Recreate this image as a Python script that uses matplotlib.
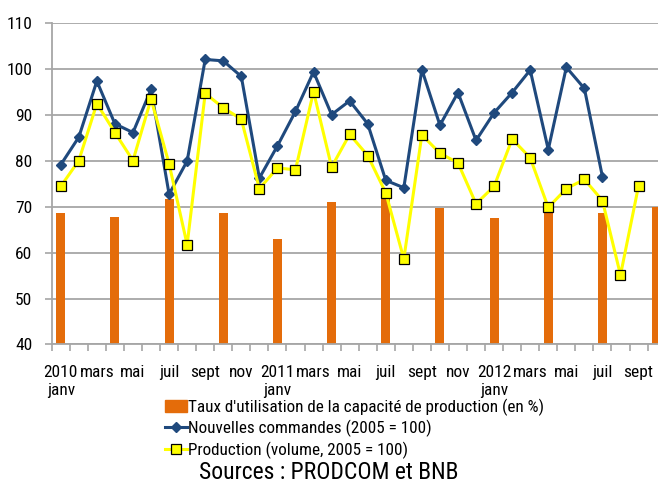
import numpy as np
import matplotlib
matplotlib.use("Agg")
import matplotlib.pyplot as plt
from matplotlib.patches import Patch
from matplotlib.lines import Line2D

plt.rcParams['font.family'] = ['Roboto Condensed', 'DejaVu Sans']

# months Jan 2010 .. Oct 2012
mois = ["janv", "févr", "mars", "avr", "mai", "juin", "juil", "août", "sept", "oct", "nov", "déc"]
annees = [2010, 2011, 2012]
n_mois = 34

# capacity utilisation, quarterly (Jan, Apr, Jul, Oct)
taux_idx = [0, 3, 6, 9, 12, 15, 18, 21, 24, 27, 30, 33]
taux = [68.7, 67.8, 71.7, 68.7, 63.0, 70.9, 71.6, 69.6, 67.6, 69.7, 68.5, 70.0]

commandes = [79.1, 85.1, 97.3, 88.0, 86.1, 95.5, 72.7, 79.9, 102.0, 101.7, 98.3, 76.2,
             83.2, 90.7, 99.3, 90.0, 93.0, 88.0, 75.7, 74.1, 99.8, 87.7, 94.8, 84.4,
             90.4, 94.8, 99.7, 82.4, 100.3, 95.7, 76.5]

production = [74.4, 80.0, 92.4, 86.1, 80.0, 93.4, 79.3, 61.7, 94.6, 91.5, 89.0, 73.9,
              78.4, 78.0, 95.0, 78.6, 85.7, 81.1, 73.0, 58.6, 85.6, 81.6, 79.5, 70.6,
              74.4, 84.7, 80.6, 69.8, 73.9, 75.9, 71.3, 55.1, 74.5]

orange = "#E46C0A"
bleu = "#1F497D"
jaune = "#FFFF00"
gris = "#A6A6A6"

fig = plt.figure(figsize=(6.58, 4.86), dpi=100)
ax = fig.add_axes([0.0786, 0.2912, 0.933, 0.6621])

ax.bar(taux_idx, taux, width=0.5, color=orange, zorder=2)
ax.plot(np.arange(len(commandes)), commandes, color=bleu, lw=2.2, marker="D", ms=5.5, zorder=3)
ax.plot(np.arange(len(production)), production, color=jaune, lw=2.2, marker="s", ms=7.5,
        mfc=jaune, mec="black", mew=0.9, zorder=4)

ax.set_ylim(40, 110)
ax.set_xlim(-0.5, n_mois - 0.5)
ax.set_yticks(np.arange(40, 111, 10))
ax.grid(axis="y", color=gris, lw=1.3, zorder=0)
ax.set_axisbelow(True)

# x labels every two months, year under janv
pos = np.arange(0, 33, 2)
labels = []
for p in pos:
    m = mois[p % 12]
    if p % 12 == 0:
        labels.append(f"{annees[p // 12]}\n{m}")
    else:
        labels.append(m)
ax.set_xticks(pos)
ax.set_xticklabels(labels, fontsize=12.5, linespacing=1.2)
ax.set_xticks(np.arange(-0.5, n_mois, 1), minor=True)
ax.tick_params(axis="x", which="major", length=0, pad=15)
ax.tick_params(axis="x", which="minor", length=5, color=gris, width=1.2)
ax.tick_params(axis="y", length=5, color=gris, width=1.2, labelsize=12.5, pad=9)

for s in ["top", "right"]:
    ax.spines[s].set_visible(False)
for s in ["left", "bottom"]:
    ax.spines[s].set_color(gris)
    ax.spines[s].set_linewidth(1.3)

handles = [
    Patch(color=orange),
    Line2D([], [], color=bleu, lw=2.2, marker="D", ms=5),
    Line2D([], [], color=jaune, lw=2.2, marker="s", ms=7, mfc=jaune, mec="black", mew=0.9),
]
noms = ["Taux d'utilisation de la capacité de production (en %)",
        "Nouvelles commandes (2005 = 100)",
        "Production (volume, 2005 = 100)"]
fig.legend(handles, noms, loc="upper left", bbox_to_anchor=(0.25, 0.18),
           frameon=False, fontsize=12.3, handlelength=1.3, handletextpad=0.1,
           labelspacing=0.25, borderaxespad=0, borderpad=0)

fig.text(0.5, 0.004, "Sources : PRODCOM et BNB", ha="center", va="bottom", fontsize=17)

fig.savefig("out.png", dpi=100)
